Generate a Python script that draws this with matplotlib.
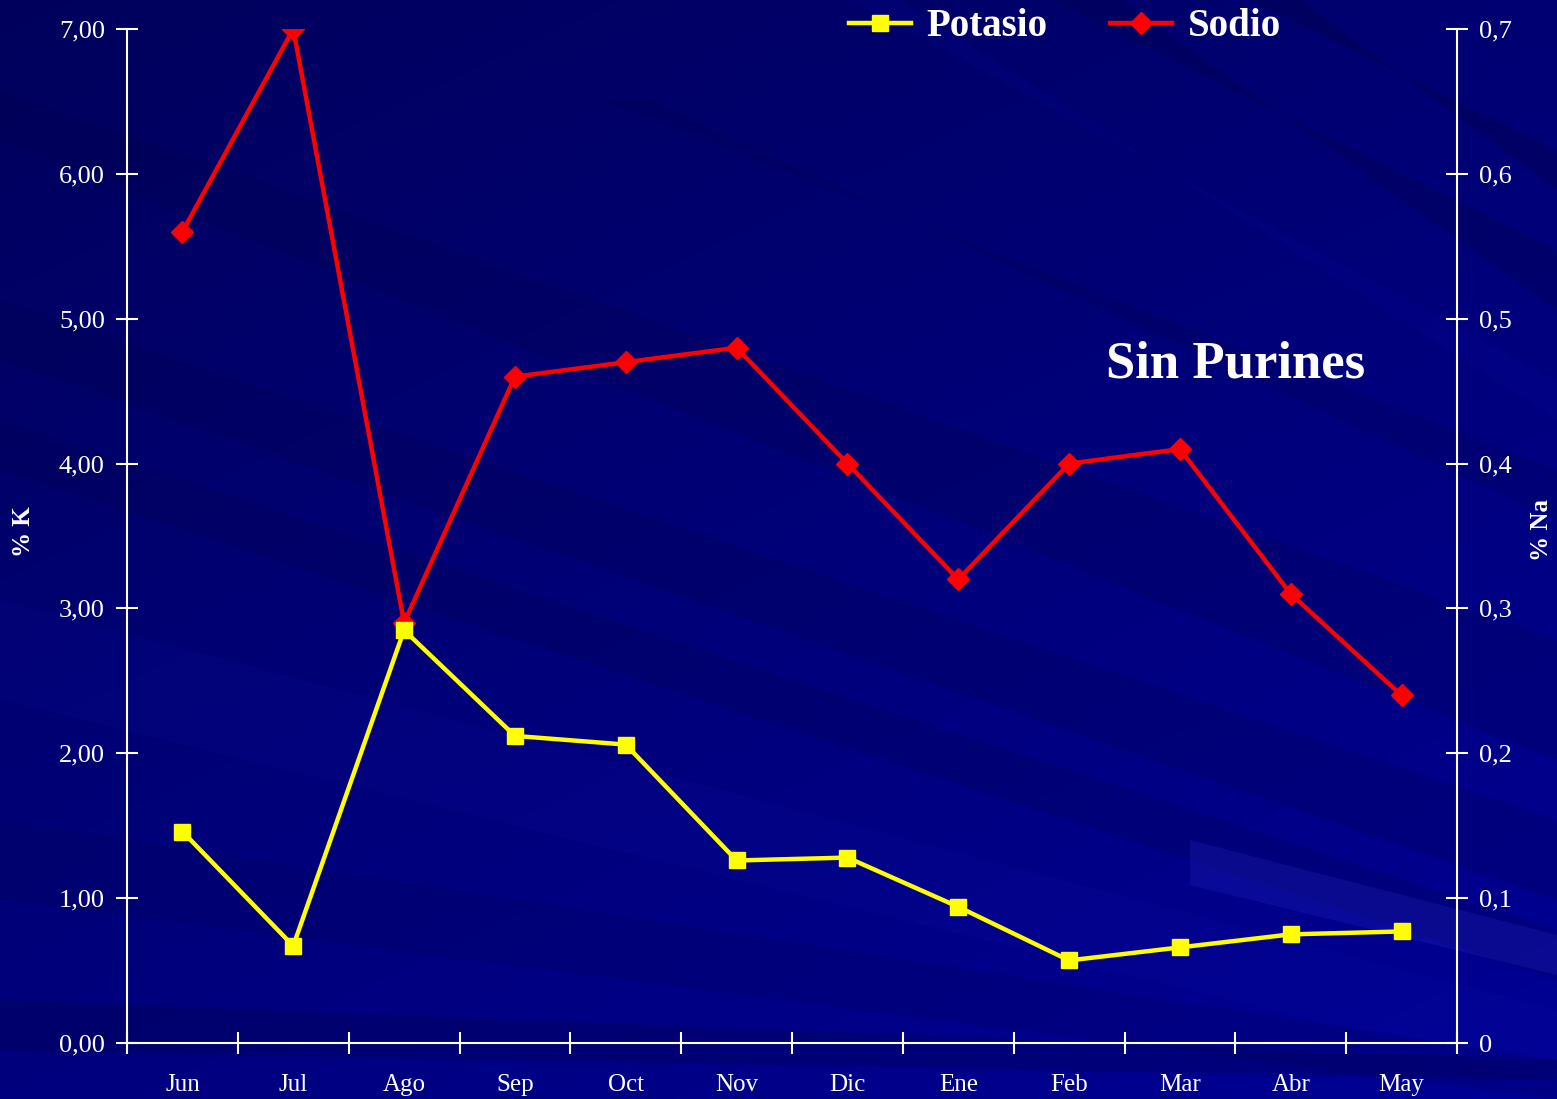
import numpy as np
import matplotlib.pyplot as plt
from matplotlib.lines import Line2D
from matplotlib.patches import Polygon

meses = ['Jun', 'Jul', 'Ago', 'Sep', 'Oct', 'Nov', 'Dic', 'Ene', 'Feb', 'Mar', 'Abr', 'May']
potasio = [1.46, 0.67, 2.85, 2.12, 2.06, 1.26, 1.28, 0.94, 0.57, 0.66, 0.75, 0.77]
sodio = [0.56, 0.70, 0.29, 0.46, 0.47, 0.48, 0.40, 0.32, 0.40, 0.41, 0.31, 0.24]

k_ticks = [0, 1, 2, 3, 4, 5, 6, 7]
na_ticks = [0, 0.1, 0.2, 0.3, 0.4, 0.5, 0.6, 0.7]

plt.rcParams['font.family'] = ['Liberation Serif', 'DejaVu Serif']

W, H = 1557, 1099
fig = plt.figure(figsize=(W / 100, H / 100), dpi=100)

# fondo azul con degradado y rayas diagonales suaves
bg = fig.add_axes([0, 0, 1, 1])
bg.set_xlim(0, W)
bg.set_ylim(H, 0)
bg.axis('off')
yy, xx = np.mgrid[0:H:4, 0:W:4]
t = np.clip(0.6 * yy / H + 0.4 * xx / W, 0, 1)
img = np.zeros(yy.shape + (3,))
img[..., 2] = (0x5c + (0x95 - 0x5c) * t) / 255
bg.imshow(img, extent=[0, W, H, 0], aspect='auto', zorder=0)

rayas = [
    ([(0, 90), (0, 140), (W, 760), (W, 640)], '#000040', 0.18),
    ([(0, 300), (0, 360), (W, 900), (W, 820)], '#000040', 0.18),
    ([(0, 420), (0, 470), (W, 980), (W, 930)], '#000045', 0.20),
    ([(0, 600), (0, 700), (W, 1080), (W, 1010)], '#2020c0', 0.08),
    ([(0, 820), (0, 900), (W, 1099), (W, 1060)], '#000050', 0.18),
    ([(0, 1000), (0, 1050), (W, 1080), (W, 1060)], '#000040', 0.25),
    ([(1190, 840), (1190, 885), (W, 975), (W, 935)], '#3030d0', 0.22),
    ([(1050, 0), (1120, 0), (W, 310), (W, 250)], '#000040', 0.25),
    ([(1250, 0), (1300, 0), (W, 190), (W, 150)], '#000035', 0.25),
    ([(850, 0), (900, 0), (W, 420), (W, 380)], '#1010b0', 0.12),
    ([(600, 100), (650, 100), (W, 520), (W, 470)], '#000045', 0.18),
]
for pts, col, a in rayas:
    bg.add_patch(Polygon(pts, closed=True, color=col, alpha=a, lw=0, zorder=1))

ax = fig.add_axes([127 / W, 1 - 1043 / H, (1457 - 127) / W, (1043 - 29) / H])
ax2 = ax.twinx()
ax.set_zorder(ax2.get_zorder() + 1)
ax.patch.set_visible(False)

x = np.arange(len(meses))
ax2.plot(x, sodio, color='#ff0000', lw=3.2, marker='D', markersize=11,
         markeredgecolor='#ff0000', label='Sodio')
ax.plot(x, potasio, color='#ffff00', lw=3.2, marker='s', markersize=12,
        markeredgecolor='#ffff00', label='Potasio')

ax.set_xlim(-0.5, len(meses) - 0.5)
ax.set_ylim(0, 7)
ax2.set_ylim(0, 0.7)

ax.set_yticks(k_ticks)
ax.set_yticklabels([f'{v:.2f}'.replace('.', ',') for v in k_ticks])
ax2.set_yticks(na_ticks)
ax2.set_yticklabels(['0' if v == 0 else f'{v:.1f}'.replace('.', ',') for v in na_ticks])

ax.set_xticks(x)
ax.set_xticklabels(meses)
ax.set_xticks(np.arange(-0.5, len(meses), 1), minor=True)
ax.tick_params(axis='x', which='major', length=0, pad=22, colors='white', labelsize=18)
ax.tick_params(axis='x', which='minor', direction='inout', length=16, width=1.5, colors='white')
ax.tick_params(axis='y', direction='inout', length=16, width=1.5, colors='white', labelsize=19, pad=8)
ax2.tick_params(axis='y', direction='inout', length=16, width=1.5, colors='white', labelsize=19, pad=8)

for a in (ax, ax2):
    for s in a.spines.values():
        s.set_visible(False)
ax.spines['left'].set_visible(True)
ax.spines['bottom'].set_visible(True)
ax2.spines['right'].set_visible(True)
for s in (ax.spines['left'], ax.spines['bottom'], ax2.spines['right']):
    s.set_color('white')
    s.set_linewidth(1.5)

fig.text(23 / W, 1 - 532 / H, '% K', color='white', fontsize=18, fontweight='bold',
         rotation=90, ha='center', va='center')
fig.text(1541 / W, 1 - 530 / H, '% Na', color='white', fontsize=18, fontweight='bold',
         rotation=90, ha='center', va='center')

ax.text(1236 / W, 1 - 365 / H, 'Sin Purines', transform=fig.transFigure, color='white',
        fontsize=38, fontweight='bold', ha='center', va='center')

handles = [
    Line2D([], [], color='#ffff00', lw=3.2, marker='s', markersize=12),
    Line2D([], [], color='#ff0000', lw=3.2, marker='D', markersize=11),
]
fig.legend(handles, ['Potasio', 'Sodio'], loc='center', bbox_to_anchor=(1065 / W, 1 - 27 / H),
           ncol=2, frameon=False, labelcolor='white', handlelength=1.6, columnspacing=1.6,
           handletextpad=0.4, prop={'size': 28, 'weight': 'bold'})

fig.savefig('out.png', dpi=100)
